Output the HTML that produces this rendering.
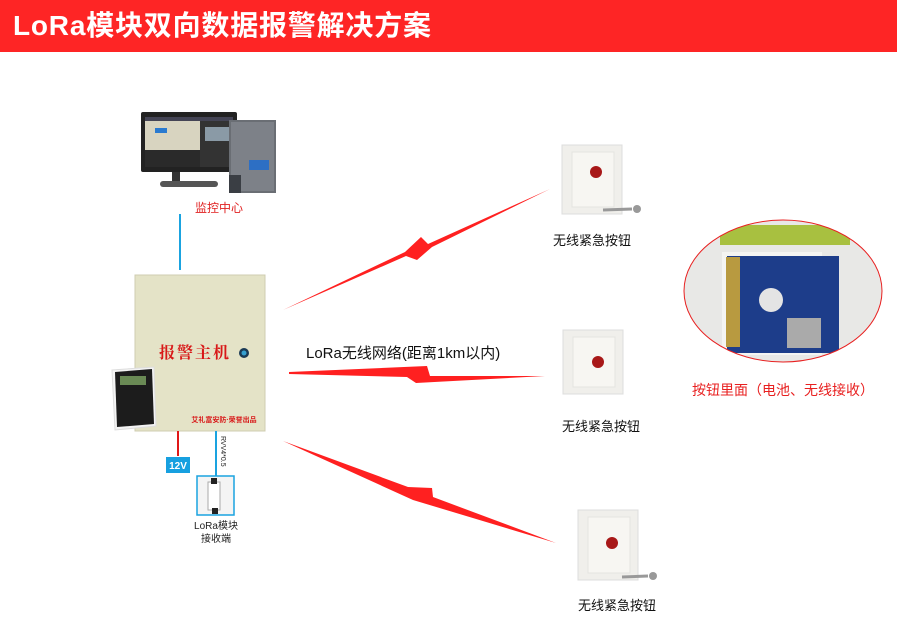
<!DOCTYPE html>
<html><head><meta charset="utf-8"><style>
body{margin:0;width:897px;height:638px;background:#fff;overflow:hidden;position:relative;font-family:"Liberation Sans","Noto Sans CJK SC",sans-serif}
.a{position:absolute}
</style></head><body>
<div class="a" style="left:0;top:0;width:897px;height:52px;background:#fe2525"></div>
<div class="a" style="left:13px;top:10px;color:#fff;font-size:28px;font-weight:bold;line-height:32px;white-space:nowrap;letter-spacing:0.8px">LoRa模块双向数据报警解决方案</div>

<svg class="a" style="left:0;top:0" width="897" height="638">
<rect x="141" y="112" width="96" height="60" rx="2" fill="#222"/>
<rect x="145" y="117" width="88" height="50" fill="#d8d4c0"/>
<rect x="145" y="117" width="88" height="4" fill="#445"/>
<rect x="200" y="121" width="33" height="46" fill="#333"/>
<rect x="205" y="127" width="26" height="14" fill="#8a9aa6"/>
<rect x="145" y="150" width="55" height="17" fill="#2a2a2a"/>
<rect x="155" y="128" width="12" height="5" fill="#2a7ad0"/>
<rect x="172" y="172" width="8" height="10" fill="#333"/>
<rect x="160" y="181" width="58" height="6" rx="3" fill="#555"/>
<rect x="229" y="120" width="47" height="73" fill="#6a6e74"/>
<rect x="231" y="122" width="43" height="69" fill="#7d8188"/>
<rect x="249" y="160" width="20" height="10" fill="#2d6fc4"/>
<rect x="229" y="175" width="12" height="18" fill="#3a3e44"/>
<text x="219" y="212" font-size="12" fill="#e02020" text-anchor="middle">监控中心</text>
<line x1="180" y1="214" x2="180" y2="270" stroke="#1aa3e0" stroke-width="2"/>
<rect x="135" y="275" width="130" height="156" fill="#e4e3c7" stroke="#cfcdb0"/>
<text x="195" y="358" font-size="16" font-weight="bold" fill="#d81818" text-anchor="middle" font-family="Noto Serif CJK SC,serif" letter-spacing="2">报警主机</text>
<circle cx="244" cy="353" r="5" fill="#1a3a55"/><circle cx="244" cy="353" r="2.5" fill="#35a0d0"/>
<text x="224" y="422" font-size="7" font-weight="bold" fill="#d81818" text-anchor="middle">艾礼富安防·荣誉出品</text>
<polygon points="112,370 154,367 156,426 115,430" fill="#f4f4f4" stroke="#ddd"/>
<polygon points="115,372 152,369 154,424 117,427" fill="#1c1c1c"/>
<rect x="120" y="376" width="26" height="9" fill="#6a8a55"/>
<line x1="178" y1="431" x2="178" y2="456" stroke="#e01818" stroke-width="2"/>
<rect x="166" y="457" width="24" height="16" fill="#17a0e0"/>
<text x="178" y="469" font-size="10" font-weight="bold" fill="#fff" text-anchor="middle">12V</text>
<line x1="216" y1="431" x2="216" y2="476" stroke="#1aa3e0" stroke-width="2"/>
<text x="0" y="0" font-size="7" fill="#222" transform="translate(221,436) rotate(90)">RVV4*0.5</text>
<rect x="197" y="476" width="37" height="39" fill="#f4f4f4" stroke="#1aa3e0" stroke-width="1.5"/>
<rect x="208" y="482" width="12" height="28" fill="#fff" stroke="#aaa"/>
<rect x="211" y="478" width="6" height="6" fill="#222"/><rect x="212" y="508" width="6" height="6" fill="#222"/>
<text x="216" y="529" font-size="10" fill="#222" text-anchor="middle">LoRa模块</text>
<text x="216" y="542" font-size="10" fill="#222" text-anchor="middle">接收端</text>
<polygon points="283,310 405,252 421,237 428,244 550,189 432,247 417,260 406,256" fill="#ff2020"/>
<polygon points="289,372 427,366 430,376 545,376 416,383 407,377 289,374" fill="#ff2020"/>
<polygon points="283,441 408,487 432,488 433,497 556,543 413,500" fill="#ff2020"/>
<text x="306" y="358" font-size="15" fill="#111">LoRa无线网络(距离1km以内)</text>
<g>
<rect x="562" y="145" width="60" height="69" fill="#f0efeb" stroke="#ddd"/><rect x="572" y="152" width="42" height="55" fill="#f7f6f2" stroke="#e4e4e0"/>
<circle cx="596" cy="172" r="6" fill="#a81818"/>
<line x1="603" y1="210" x2="632" y2="209" stroke="#999" stroke-width="3"/><circle cx="637" cy="209" r="4" fill="#999"/>
<text x="592" y="245" font-size="13" fill="#111" text-anchor="middle">无线紧急按钮</text>
</g>
<g>
<rect x="563" y="330" width="60" height="64" fill="#f0efeb" stroke="#ddd"/><rect x="573" y="337" width="42" height="50" fill="#f7f6f2" stroke="#e4e4e0"/>
<circle cx="598" cy="362" r="6" fill="#a81818"/>
<text x="601" y="431" font-size="13" fill="#111" text-anchor="middle">无线紧急按钮</text>
</g>
<g>
<rect x="578" y="510" width="60" height="70" fill="#f0efeb" stroke="#ddd"/><rect x="588" y="517" width="42" height="56" fill="#f7f6f2" stroke="#e4e4e0"/>
<circle cx="612" cy="543" r="6" fill="#a81818"/>
<line x1="622" y1="577" x2="648" y2="576" stroke="#999" stroke-width="3"/><circle cx="653" cy="576" r="4" fill="#999"/>
<text x="617" y="610" font-size="13" fill="#111" text-anchor="middle">无线紧急按钮</text>
</g>
<defs><clipPath id="c"><ellipse cx="783" cy="291" rx="99" ry="71"/></clipPath></defs>
<g clip-path="url(#c)">
<rect x="680" y="218" width="210" height="150" fill="#e8e8e6"/>
<rect x="720" y="225" width="130" height="20" fill="#a8c040"/>
<rect x="722" y="252" width="100" height="103" fill="#f4f4f2"/>
<rect x="727" y="256" width="112" height="97" fill="#1d3d8a"/>
<rect x="726" y="257" width="14" height="90" fill="#b89a40"/>
<circle cx="771" cy="300" r="12" fill="#e4e4e4"/>
<rect x="787" y="318" width="34" height="30" fill="#aaa"/>
</g>
<ellipse cx="783" cy="291" rx="99" ry="71" fill="none" stroke="#e82020" stroke-width="1"/>
<text x="783" y="395" font-size="14" fill="#e82020" text-anchor="middle">按钮里面（电池、无线接收）</text>
</svg>
</body></html>
